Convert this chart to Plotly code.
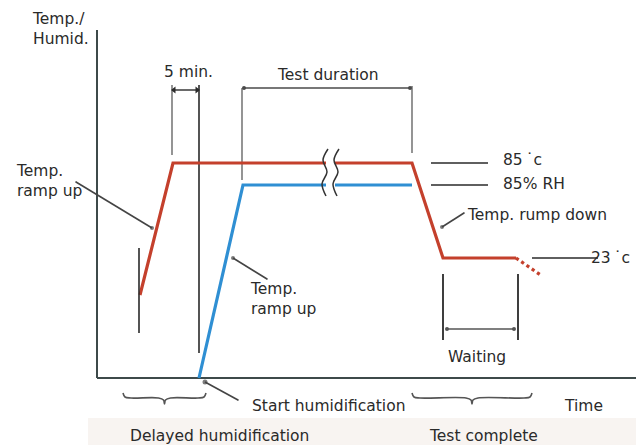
import plotly.graph_objects as go

# ---- Schematic data (x = time units from origin, y = level units above time axis) ----
temp_x = [43, 76, 315, 346, 419]
temp_y = [83, 215, 215, 120, 120]
temp_tail_x = [419, 445]
temp_tail_y = [120, 102]
humid_x = [102, 146, 315]
humid_y = [0, 193, 193]

axis_y_top = 348
axis_x_end = 541

level_labels = ["85\u2009˙c", "85% RH", "23\u2009˙c"]
level_values = [215, 193, 120]

five_min_x = [75, 102]
test_duration_x = [145, 315]
waiting_x = [346, 421]
brace_delayed_x = [26, 109]
brace_complete_x = [315, 435]
break_x = [228, 239]

RED = "#c4402c"
BLUE = "#2f8fd3"
DARK = "#2a2a2a"
GRAY = "#7a7a7a"
AXIS = "#3e4a4a"
FONT = "DejaVu Sans"
FS = 15.5

fig = go.Figure()


def line(xs, ys, color=DARK, width=1.6, dash="solid", markers=None, msize=5, shape="linear"):
    mode = "lines" if markers is None else "lines+markers"
    kw = {}
    if markers is not None:
        kw["marker"] = dict(symbol=markers, size=msize, color=color, line=dict(width=0))
    fig.add_trace(go.Scatter(x=xs, y=ys, mode=mode, showlegend=False, hoverinfo="skip",
                             line=dict(color=color, width=width, dash=dash, shape=shape), **kw))


def text(x, y, s, anchor="left"):
    fig.add_annotation(x=x, y=y, text=s, showarrow=False, xanchor=anchor, yanchor="middle",
                       font=dict(family=FONT, size=FS, color=DARK), align="left")


# bottom band
fig.add_shape(type="rect", x0=-9, x1=547, y0=-40, y1=-67, line=dict(width=0),
              fillcolor="#f8f4f1", layer="below")

# axes
line([0, 0], [0, axis_y_top], color=AXIS, width=2)
line([0, axis_x_end], [0, 0], color=AXIS, width=2)

# 5 min marker
line([five_min_x[0]] * 2, [223, 293], color=GRAY, width=1.6)
line([five_min_x[1]] * 2, [25, 293], color=DARK, width=1.6)
line([five_min_x[0] + 2, five_min_x[1] - 2], [288, 288], color=DARK, width=1.4,
     markers=["triangle-left", "triangle-right"], msize=6)
text((five_min_x[0] + five_min_x[1]) / 2 + 3, 306, "5 min.", "center")

# test duration marker
line([test_duration_x[0]] * 2, [198, 290], color=GRAY, width=1.6)
line([test_duration_x[1]] * 2, [225, 292], color=GRAY, width=1.6)
line([test_duration_x[0] + 2, test_duration_x[1] - 2], [290, 290], color="#4a4a4a", width=1.6,
     markers="circle", msize=4)
text((test_duration_x[0] + test_duration_x[1]) / 2 + 1, 303, "Test duration", "center")

# curves
line(humid_x, humid_y, color=BLUE, width=3.2)
line(temp_x, temp_y, color=RED, width=3.2)
line(temp_tail_x, temp_tail_y, color=RED, width=3.2, dash="dot")

# break symbols (white gap then wavy strokes)
line([break_x[0] + 1, break_x[1] - 1], [215, 215], color="white", width=4)
line([break_x[0] + 1, break_x[1] - 1], [193, 193], color="white", width=4)
for bx in break_x:
    line([bx + 3, bx - 2, bx + 2, bx - 3, bx + 1], [229, 218, 206, 194, 182],
         color="#333333", width=1.5, shape="spline")

# level labels
line([334, 391], [level_values[0]] * 2, color=DARK, width=1.6)
line([334, 391], [level_values[1]] * 2, color=DARK, width=1.6)
text(404, level_values[0] + 3, level_labels[0])
text(404, level_values[1] + 1, level_labels[1])
line([435, 501], [level_values[2]] * 2, color=DARK, width=1.6)
text(535, level_values[2], level_labels[2], "right")

# left red ramp marker & label
line([42, 42], [45, 130], color=DARK, width=1.6)
line([-21, 55], [196, 150], color="#444444", width=1.6, markers=["circle-open", "circle"], msize=[1, 4])
text(-83, 197, "Temp.<br>ramp up")

# blue ramp label
line([170, 136], [99, 120], color="#444444", width=1.6, markers=["circle-open", "circle"], msize=[1, 4])
text(151, 79, "Temp.<br>ramp up")

# ramp down label
line([367, 345], [165, 151], color="#444444", width=1.6, markers=["circle-open", "circle"], msize=[1, 4])
text(368, 163, "Temp. rump down")

# waiting
line([waiting_x[0]] * 2, [38, 104], color=DARK, width=1.8)
line([waiting_x[1]] * 2, [38, 104], color=DARK, width=1.8)
line([waiting_x[0] + 4, waiting_x[1] - 4], [49, 49], color="#555555", width=1.6, markers="circle", msize=4)
text((waiting_x[0] + waiting_x[1]) / 2 - 4, 21, "Waiting", "center")


# braces
def brace(x0, x1):
    xc = (x0 + x1) / 2
    xs = [x0, x0 + 2, x0 + 8, xc - 6, xc - 1, xc, xc + 1, xc + 6, x1 - 8, x1 - 2, x1]
    ys = [-15, -19, -20, -20, -22, -26, -22, -20, -20, -19, -15]
    line(xs, ys, color="#555555", width=1.6, shape="spline")


brace(*brace_delayed_x)
brace(*brace_complete_x)

# start humidification
line([141, 108], [-22, -4], color="#444444", width=1.6, markers=["circle-open", "circle"], msize=[1, 5])
text(153, -28, "Start humidification")
text(465, -28, "Time")

# bottom band labels
text(31, -58, "Delayed humidification")
text(330, -58, "Test complete")

# y axis title
text(-67, 349, "Temp./<br>Humid.")

# figure placed at the page's 8px body margin: 1 data unit == 1 screen pixel
fig.update_layout(
    width=636, height=437, autosize=False,
    margin=dict(l=0, r=0, t=0, b=0, pad=0),
    paper_bgcolor="white", plot_bgcolor="white",
    xaxis=dict(range=[-89, 547], visible=False, fixedrange=True),
    yaxis=dict(range=[-67, 370], visible=False, fixedrange=True),
    font=dict(family=FONT, size=FS, color=DARK),
    showlegend=False,
)

fig.write_html("out.html")
